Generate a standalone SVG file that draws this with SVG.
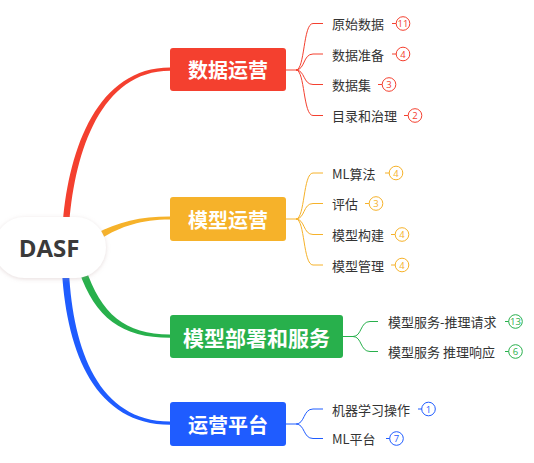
<svg xmlns="http://www.w3.org/2000/svg" width="534" height="463" viewBox="0 0 534 463">
<style>
text{font-family:"Noto Sans CJK SC","Noto Sans",sans-serif;}
.main{font-size:20px;font-weight:bold;fill:#fff;text-anchor:middle;dominant-baseline:central;}
.child{font-size:13px;fill:#333;dominant-baseline:central;}
.num{font-size:9.5px;text-anchor:middle;dominant-baseline:central;font-family:"Open Sans","Noto Sans",sans-serif;}
.cl{fill:none;stroke-width:1;}
.r{stroke:#F4402F;} .y{stroke:#F6B22A;} .g{stroke:#28B04C;} .b{stroke:#1F5CFF;}
.bd{fill:#fff;stroke-width:1;}
</style>
<defs>
<filter id="sh" x="-20%" y="-30%" width="140%" height="160%">
<feDropShadow dx="0" dy="1" stdDeviation="2" flood-color="#b89a9a" flood-opacity="0.35"/>
</filter>
</defs>
<rect width="534" height="463" fill="#fff"/>
<g id="connectors">
<path d="M63 222 C69 148,98 67.5,170 67.5 L170 70.8 C101 70.8,75 152,69.5 222 Z" fill="#F4402F"/>
<path d="M95 234 C118 222,140 216.5,170 216.5 L170 219.5 C141 219.5,122 226,100 239 Z" fill="#F6B22A"/>
<path d="M79 271 C95 318,122 337.8,170 337.8 L170 334.5 C125 334.5,101 314,85.5 268 Z" fill="#28B04C"/>
<path d="M62 272 C67 354,96 424.8,170 424.8 L170 421.5 C99 421.5,73 350,69 272 Z" fill="#1F5CFF"/>
<g class="cl r">
<path d="M286 70 L296 70"/>
<path d="M296 70 C305 70,303 23.5,313 23.5 L323 23.5"/>
<path d="M296 70 C305 70,303 54,313 54 L323 54"/>
<path d="M296 70 C305 70,303 84.5,313 84.5 L323 84.5"/>
<path d="M296 70 C305 70,303 115.5,313 115.5 L323 115.5"/>
</g>
<g class="cl y">
<path d="M286 219 L296 219"/>
<path d="M296 219 C305 219,303 173,313 173 L323 173"/>
<path d="M296 219 C305 219,303 203.5,313 203.5 L323 203.5"/>
<path d="M296 219 C305 219,303 234.5,313 234.5 L323 234.5"/>
<path d="M296 219 C305 219,303 265,313 265 L323 265"/>
</g>
<g class="cl g">
<path d="M343 336.5 L353 336.5"/>
<path d="M353 336.5 C362 336.5,360 321.5,370 321.5 L378 321.5"/>
<path d="M353 336.5 C362 336.5,360 351.5,370 351.5 L378 351.5"/>
</g>
<g class="cl b">
<path d="M286 424 L296 424"/>
<path d="M296 424 C305 424,303 409,313 409 L323 409"/>
<path d="M296 424 C305 424,303 438.5,313 438.5 L323 438.5"/>
</g>
</g>
<g id="root">
<rect x="-6" y="217" width="112" height="61" rx="30.5" fill="#fff" filter="url(#sh)"/>
<text x="49" y="247.5" font-size="24" font-weight="bold" fill="#3a3a3a" text-anchor="middle" dominant-baseline="central" style="font-family:'Open Sans','Noto Sans',sans-serif">DASF</text>
</g>
<g id="n-data">
<rect x="170" y="48" width="116" height="43" rx="3" fill="#F4402F"/>
<text class="main" x="228" y="69.5">数据运营</text>
</g>
<g id="n-model">
<rect x="170" y="197" width="116" height="44" rx="3" fill="#F6B22A"/>
<text class="main" x="228" y="219">模型运营</text>
</g>
<g id="n-deploy">
<rect x="170" y="315" width="173" height="43" rx="3" fill="#28B04C"/>
<text class="main" x="256.5" y="336.5" style="font-size:21px">模型部署和服务</text>
</g>
<g id="n-platform">
<rect x="170" y="402" width="116" height="44" rx="3" fill="#1F5CFF"/>
<text class="main" x="228" y="424">运营平台</text>
</g>
<g id="c-raw">
<text class="child" x="332" y="23.5">原始数据</text>
<path class="cl r" d="M392 23.5 H396"/><circle class="bd r" cx="403" cy="23.5" r="6.8"/><text class="num" x="403" y="23.5" fill="#F4402F">11</text>
</g>
<g id="c-prep">
<text class="child" x="332" y="54">数据准备</text>
<path class="cl r" d="M392 54 H396"/><circle class="bd r" cx="403" cy="54" r="6.8"/><text class="num" x="403" y="54" fill="#F4402F">4</text>
</g>
<g id="c-set">
<text class="child" x="332" y="84.5">数据集</text>
<path class="cl r" d="M378 84.5 H382"/><circle class="bd r" cx="389" cy="84.5" r="6.8"/><text class="num" x="389" y="84.5" fill="#F4402F">3</text>
</g>
<g id="c-gov">
<text class="child" x="332" y="115.5">目录和治理</text>
<path class="cl r" d="M404 115.5 H408"/><circle class="bd r" cx="415" cy="115.5" r="6.8"/><text class="num" x="415" y="115.5" fill="#F4402F">2</text>
</g>
<g id="c-ml">
<text class="child" x="332" y="173">ML算法</text>
<path class="cl y" d="M385 173 H389"/><circle class="bd y" cx="396" cy="173" r="6.8"/><text class="num" x="396" y="173" fill="#F6B22A">4</text>
</g>
<g id="c-eval">
<text class="child" x="332" y="203.5">评估</text>
<path class="cl y" d="M365 203.5 H369"/><circle class="bd y" cx="376" cy="203.5" r="6.8"/><text class="num" x="376" y="203.5" fill="#F6B22A">3</text>
</g>
<g id="c-build">
<text class="child" x="332" y="234.5">模型构建</text>
<path class="cl y" d="M391 234.5 H395"/><circle class="bd y" cx="402" cy="234.5" r="6.8"/><text class="num" x="402" y="234.5" fill="#F6B22A">4</text>
</g>
<g id="c-manage">
<text class="child" x="332" y="265">模型管理</text>
<path class="cl y" d="M391 265 H395"/><circle class="bd y" cx="402" cy="265" r="6.8"/><text class="num" x="402" y="265" fill="#F6B22A">4</text>
</g>
<g id="c-req">
<text class="child" x="388" y="321.5">模型服务-推理请求</text>
<path class="cl g" d="M505 321.5 H509"/><circle class="bd g" cx="515.5" cy="321.5" r="6.8"/><text class="num" x="515.5" y="321.5" fill="#28B04C">13</text>
</g>
<g id="c-resp">
<text class="child" x="388" y="351.5">模型服务 推理响应</text>
<path class="cl g" d="M505 351.5 H509"/><circle class="bd g" cx="515.5" cy="351.5" r="6.8"/><text class="num" x="515.5" y="351.5" fill="#28B04C">6</text>
</g>
<g id="c-mlops">
<text class="child" x="332" y="409">机器学习操作</text>
<path class="cl b" d="M418 409 H422"/><circle class="bd b" cx="428.5" cy="409" r="6.8"/><text class="num" x="428.5" y="409" fill="#1F5CFF">1</text>
</g>
<g id="c-mlplat">
<text class="child" x="332" y="438.5">ML平台</text>
<path class="cl b" d="M386 438.5 H390"/><circle class="bd b" cx="396.5" cy="438.5" r="6.8"/><text class="num" x="396.5" y="438.5" fill="#1F5CFF">7</text>
</g>
</svg>
